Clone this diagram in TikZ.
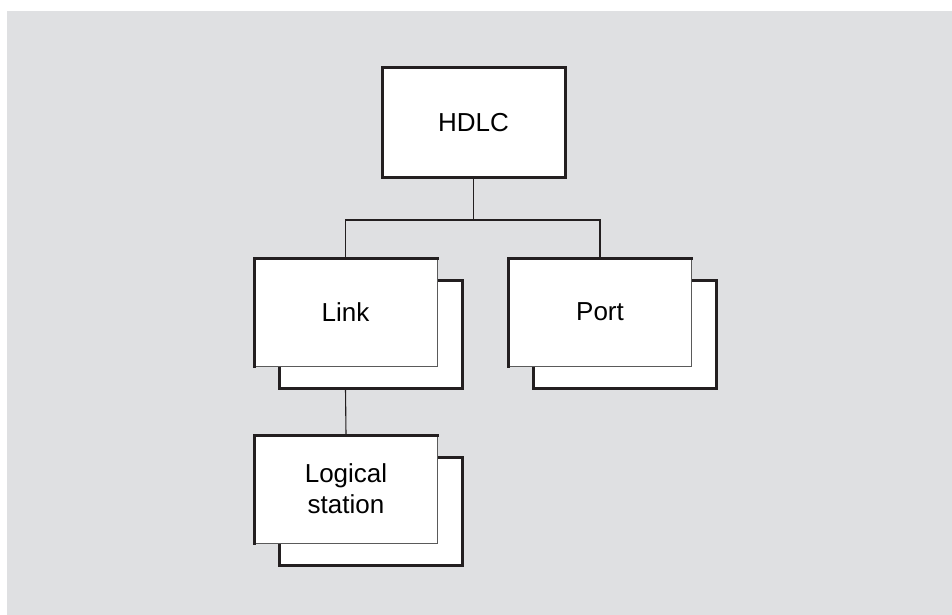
\documentclass[tikz,border=0pt]{standalone}
\usepackage{fontspec}
\setmainfont{Liberation Sans}
\definecolor{bggray}{RGB}{223,224,226}
\definecolor{edgedark}{RGB}{35,31,32}
\definecolor{edgethin}{RGB}{90,90,90}
\begin{document}
\begin{tikzpicture}[x=1pt,y=-1pt,
  boxbase/.style={rectangle,minimum width=183pt,minimum height=108pt,inner sep=0pt,outer sep=0pt,fill=white},
  mainbox/.style={boxbase,draw=edgedark,line width=3pt,font=\fontsize{26}{31}\selectfont,align=center},
  backbox/.style={boxbase,draw=edgedark,line width=3pt},
  frontbox/.style={boxbase,draw=edgethin,line width=1pt,font=\fontsize{26}{31}\selectfont,align=center},
  thickedge/.style={draw=edgedark,line width=3pt,line cap=rect},
  conn/.style={draw=edgedark,line width=1.1pt}]
\useasboundingbox (0,0) rectangle (952,615);
\fill[bggray] (7,11) rectangle (952,615);
% HDLC
\node[mainbox,minimum height=109pt] (hdlc) at (473.5,122.5) {HDLC};
% Link stack
\node[backbox] (linkback) at (370.5,334.5) {};
\node[frontbox] (link) at (345.5,312) {Link};
\draw[thickedge] (link.south west) -- (link.north west) -- (link.north east);
% Port stack
\node[backbox] (portback) at (625,334.5) {};
\node[frontbox] (port) at (600,312) {Port};
\draw[thickedge] (port.south west) -- (port.north west) -- (port.north east);
% Logical station stack
\node[backbox] (logback) at (371,511.5) {};
\node[frontbox] (logical) at (346,489) {Logical\\station};
\draw[thickedge] (logical.south west) -- (logical.north west) -- (logical.north east);
% connectors
\coordinate (junction) at (473.5,220);
\draw[conn] (hdlc.south) -- (junction);
\draw[conn] (link.north) |- (junction) -| (port.north);
\draw[conn] (link.north |- linkback.south) -- (logical.north);
\end{tikzpicture}
\end{document}
